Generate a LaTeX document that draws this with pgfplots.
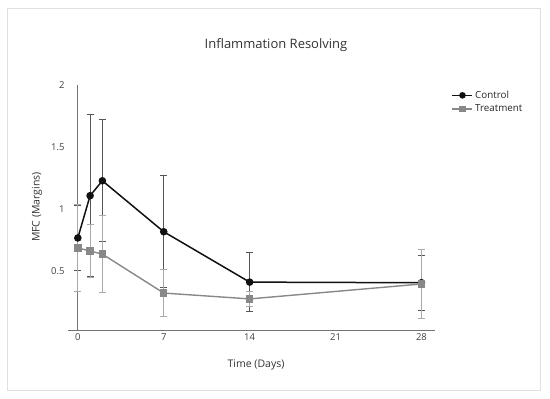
\documentclass[border=0pt]{standalone}
\usepackage{pgfplots}
\pgfplotsset{compat=1.18}
\usepackage{fontspec}
\setmainfont{Open Sans}
\definecolor{ctrl}{HTML}{111111}
\definecolor{ctrlerr}{HTML}{555555}
\definecolor{trt}{HTML}{888888}
\definecolor{trterr}{HTML}{AAAAAA}
\begin{document}
\begin{tikzpicture}
\path (0pt,0pt) rectangle (550pt,399pt);
\draw[black!12, line width=1pt] (7.5pt,390.5pt) rectangle (540.5pt,8.5pt);
\node[font=\fontsize{13}{15}\selectfont, text=black!80] at (276pt,354pt) {Inflammation Resolving};
\node[font=\fontsize{10.5}{12}\selectfont, text=black!80] at (256pt,34pt) {Time (Days)};
\node[font=\fontsize{10.5}{12}\selectfont, text=black!80, rotate=90] at (37pt,192pt) {MFC (Margins)};
\begin{axis}[
  at={(68pt,69pt)}, anchor=south west,
  scale only axis, width=367pt, height=245pt,
  xmin=-0.8, xmax=29.1, ymin=0.03, ymax=2,
  axis x line=bottom, axis y line=left,
  x axis line style={black!55, line width=0.8pt, -},
  y axis line style={draw=none},
  xtick={0,7,14,21,28},
  ytick={0.5,1,1.5,2},
  major tick length=0pt,
  tick label style={font=\fontsize{9.5}{11}\selectfont, text=black!75},
  /pgf/number format/assume math mode=true,
  clip=false,
  legend style={at={(1.045,0.985)}, anchor=north west, draw=none, fill=none,
    font=\fontsize{9.8}{11}\selectfont, text=black!85, row sep=1pt,
    inner sep=0pt},
  legend cell align=left,
  legend image code/.code={
    \draw[#1, mark size=2.5pt] (0pt,0pt) -- (20pt,0pt);
    \draw[#1, mark size=2.5pt, mark repeat=1] plot coordinates {(10pt,0pt)};
  },
]
\draw[black!55, line width=0.8pt] (axis cs:0,0.03) -- (axis cs:0,2);
\addplot[ctrl, line width=1.5pt, mark=*, mark size=3pt,
  error bars/.cd, y dir=both, y explicit,
  error bar style={ctrlerr, line width=1.1pt}, error mark options={ctrlerr, line width=1.1pt, mark size=3.5pt, rotate=90}]
  coordinates {
  (0,0.77) +- (0,0.26)
  (1,1.11) +- (0,0.65)
  (2,1.23) +- (0,0.49)
  (7,0.82) +- (0,0.45)
  (14,0.415) +- (0,0.235)
  (28,0.41) +- (0,0.22)
  };
\addlegendentry{Control}
\addplot[trt, line width=1.4pt, mark=square*, mark size=3pt,
  error bars/.cd, y dir=both, y explicit,
  error bar style={trterr, line width=1.1pt}, error mark options={trterr, line width=1.1pt, mark size=3.5pt, rotate=90}]
  coordinates {
  (0,0.69) +- (0,0.35)
  (1,0.665) +- (0,0.21)
  (2,0.64) +- (0,0.31)
  (7,0.327) +- (0,0.19)
  (14,0.28) +- (0,0.06)
  (28,0.40) +- (0,0.28)
  };
\addlegendentry{Treatment}
\end{axis}
\end{tikzpicture}
\end{document}
